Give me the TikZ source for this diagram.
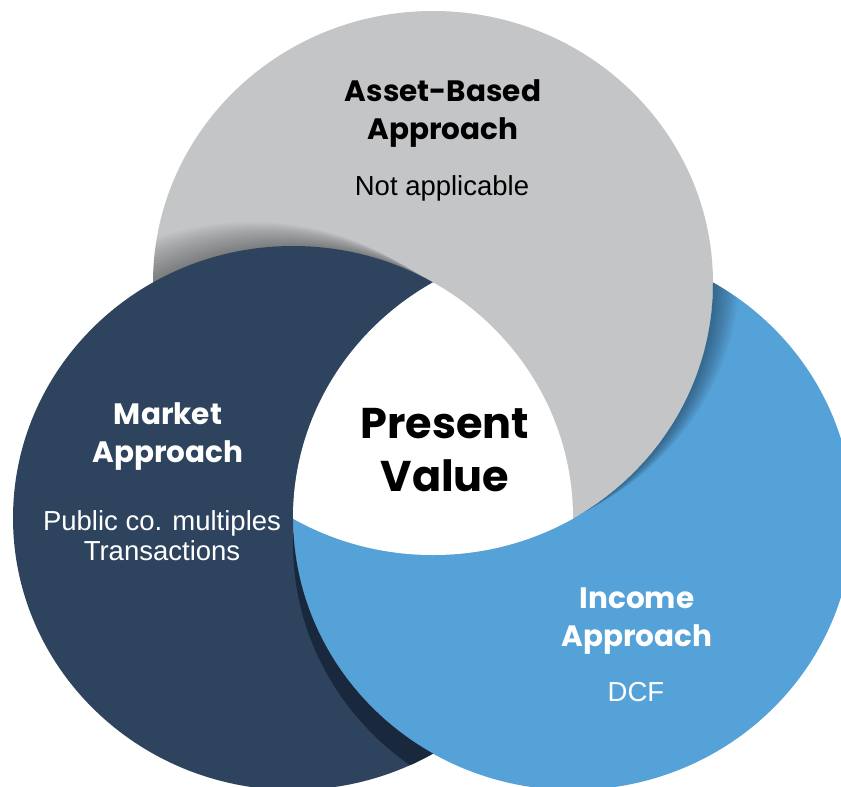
\documentclass[tikz,border=0pt]{standalone}
\usepackage{fontspec}
\setmainfont{Liberation Sans}
\newfontfamily\headfont{Poppins}
\definecolor{grayc}{HTML}{C4C5C7}
\definecolor{navyc}{HTML}{2E445E}
\definecolor{bluec}{HTML}{55A2D8}
\definecolor{navyshadow}{HTML}{1A283D}
\def\Gshape{(433,283) ellipse [x radius=280pt, y radius=272pt]}
\def\Nshape{(293,518) ellipse [x radius=280pt, y radius=272pt]}
\def\Bshape{(573,518) ellipse [x radius=280pt, y radius=272pt]}
\def\Frame{(-50,-50) rectangle (900,850)}
\begin{document}
\begin{tikzpicture}[x=1pt,y=-1pt,
  head/.style={font=\headfont\bfseries\fontsize{29.5}{36}\selectfont, inner sep=0pt, anchor=base},
  big/.style={font=\headfont\bfseries\fontsize{43}{50}\selectfont, inner sep=0pt, anchor=base, text=black},
  body/.style={font=\fontsize{27.5}{30}\selectfont, inner sep=0pt, anchor=base},
  shadowstep/.style={fill=black, opacity=0.025}]
\useasboundingbox (0,0) rectangle (841,787);
\begin{scope}
\clip (0,0) rectangle (841,787);
% gray circle
\fill[grayc] \Gshape;
% shadow of navy on gray
\begin{scope}
\clip \Gshape;
\foreach \s in {1,...,16} {
  \fill[shadowstep, shift={({-2.6*\s},{-1.5*\s})}] \Nshape;
}
\end{scope}
% blue circle, outside gray, with the shadow of gray
\begin{scope}[even odd rule]
\clip \Frame \Gshape;
\fill[bluec] \Bshape;
\begin{scope}[nonzero rule]
\clip \Bshape;
\foreach \s in {1,...,16} {
  \fill[shadowstep, shift={({1.75*\s},{-1.0*\s})}] \Gshape;
}
\end{scope}
\end{scope}
% navy circle, outside blue, with the shadow of blue
\begin{scope}[even odd rule]
\clip \Frame \Bshape;
\fill[navyc] \Nshape;
\begin{scope}[nonzero rule]
\clip \Nshape;
\fill[navyshadow, shift={(0,26)}] \Bshape;
\end{scope}
\end{scope}
% centre
\begin{scope}
\clip \Gshape;
\clip \Nshape;
\fill[white] \Bshape;
\end{scope}
\end{scope}
% texts
\node[head, text=black] (assetA) at (443,101) {Asset-Based};
\node[head, text=black] (assetB) at (443,139) {Approach};
\node[body, text=black] (assetC) at (442,195) {Not applicable};
\node[head, text=white] (marketA) at (168,424) {Market};
\node[head, text=white] (marketB) at (168,462) {Approach};
\node[body, text=white] (marketC) at (162,530) {Public co. multiples};
\node[body, text=white] (marketD) at (162,560) {Transactions};
\node[big] (pvA) at (445,438) {Present};
\node[big] (pvB) at (445,491) {Value};
\node[head, text=white] (incA) at (637,608) {Income};
\node[head, text=white] (incB) at (637,646) {Approach};
\node[body, text=white] (incC) at (636,701) {DCF};
\end{tikzpicture}
\end{document}
